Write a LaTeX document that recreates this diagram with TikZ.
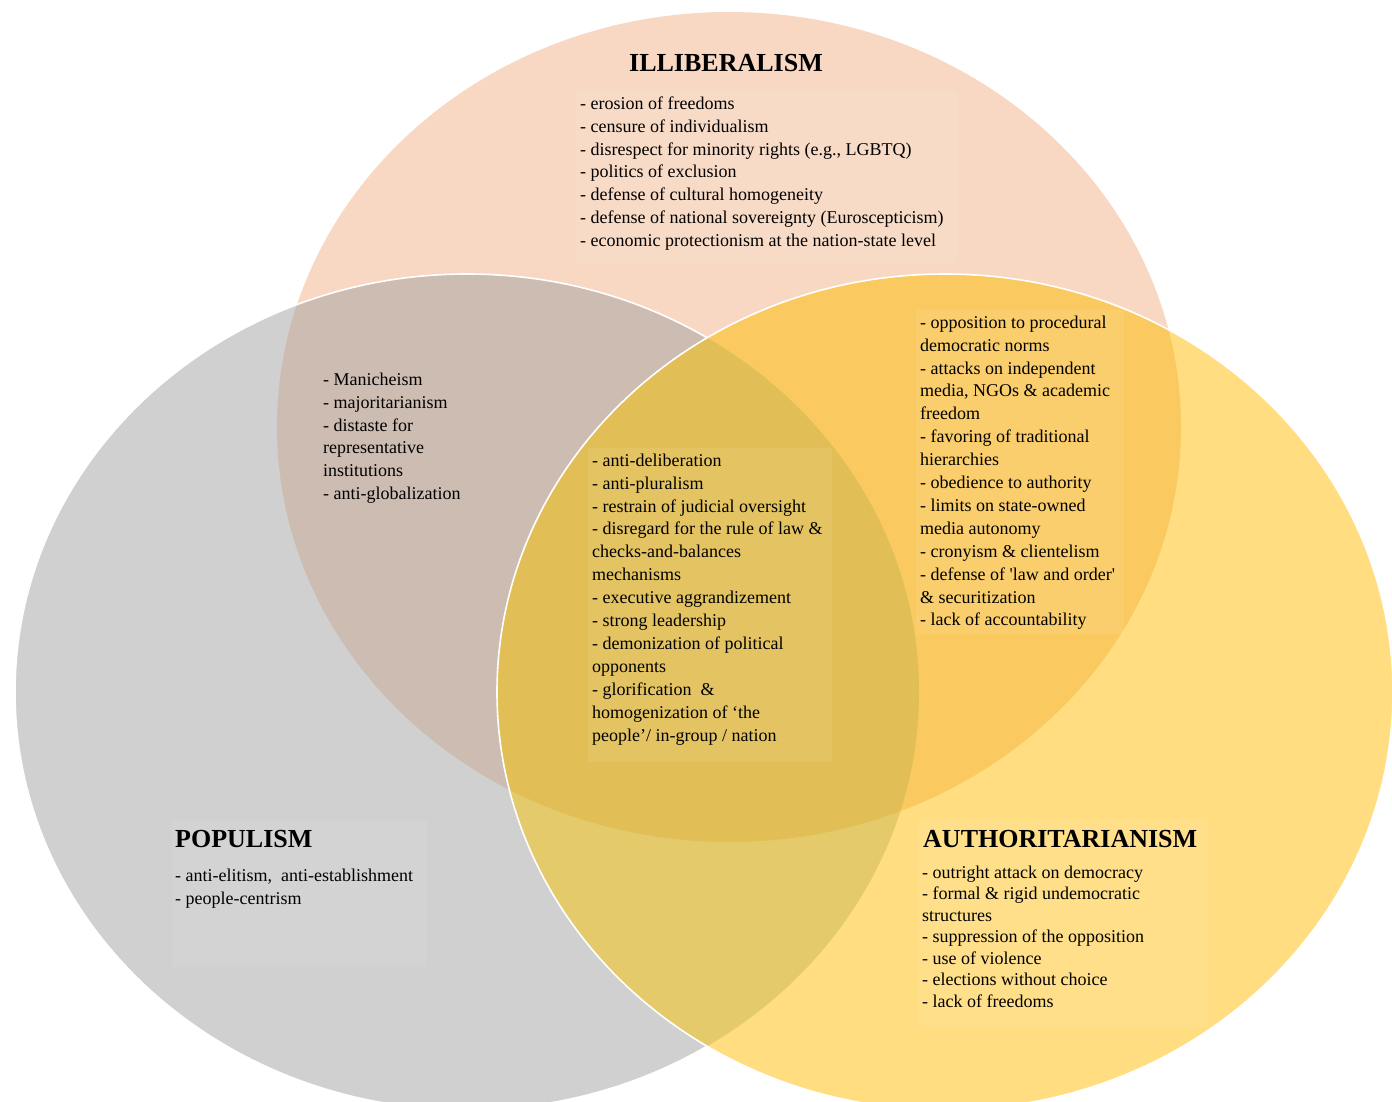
\documentclass[tikz,border=0pt]{standalone}
\usepackage{fontspec}
\setmainfont{Liberation Serif}
\definecolor{cI}{RGB}{248,216,194}
\definecolor{cP}{RGB}{208,208,208}
\definecolor{cA}{RGB}{255,221,128}
\definecolor{cIP}{RGB}{205,188,178}
\definecolor{cIA}{RGB}{250,202,96}
\definecolor{cPA}{RGB}{229,202,107}
\definecolor{cIPA}{RGB}{226,190,86}
\def\illpath{(729,427) ellipse [x radius=452pt, y radius=415pt]}
\def\poppath{(467,692) ellipse [x radius=452pt, y radius=418pt]}
\def\autpath{(945,692) ellipse [x radius=448pt, y radius=418pt]}
\tikzset{
  listtext/.style={anchor=north west, inner sep=0pt, align=left, font=\fontsize{18}{22.9}\selectfont},
  authlist/.style={anchor=north west, inner sep=0pt, align=left, font=\fontsize{18}{21.5}\selectfont},
  titletext/.style={inner sep=0pt, font=\fontsize{26}{30}\selectfont\bfseries},
  shade box/.style={fill=white, fill opacity=0.08, draw=none},
  outline/.style={draw=white, line width=1.6pt}
}
\begin{document}
\begin{tikzpicture}[x=1pt,y=-1pt]
\useasboundingbox (0,0) rectangle (1392,1102);
% base fills
\fill[cI] \illpath;
\fill[cP] \poppath;
\begin{scope}
  \clip \illpath;
  \fill[cIP] \poppath;
\end{scope}
\draw[outline] \poppath;
\fill[cA] \autpath;
\begin{scope}
  \clip \illpath;
  \fill[cIA] \autpath;
\end{scope}
\begin{scope}
  \clip \poppath;
  \fill[cPA] \autpath;
\end{scope}
\begin{scope}
  \clip \illpath;
  \clip \poppath;
  \fill[cIPA] \autpath;
\end{scope}
\draw[outline] \autpath;
% shaded text boxes
\path[shade box] (576,90) rectangle (957,263);
\path[shade box] (588,448) rectangle (832,762);
\path[shade box] (916,310) rectangle (1124,634);
\path[shade box] (172,821) rectangle (427,967);
\path[shade box] (918,820) rectangle (1208,1027);
% titles
\node[titletext, anchor=base] (tIll) at (726,72) {ILLIBERALISM};
\node[titletext, anchor=base west] (tPop) at (175,847) {POPULISM};
\node[titletext, anchor=base west] (tAut) at (923,847) {AUTHORITARIANISM};
% lists
\node[listtext] (lIll) at (580,93) {\strut- erosion of freedoms\\
- censure of individualism\\
- disrespect for minority rights (e.g., LGBTQ)\\
- politics of exclusion\\
- defense of cultural homogeneity\\
- defense of national sovereignty (Euroscepticism)\\
- economic protectionism at the nation-state level};
\node[listtext] (lIP) at (323,369) {\strut- Manicheism\\
- majoritarianism\\
- distaste for\\
representative\\
institutions\\
- anti-globalization};
\node[listtext] (lIPA) at (592,450) {\strut- anti-deliberation\\
- anti-pluralism\\
- restrain of judicial oversight\\
- disregard for the rule of law \&\\
checks-and-balances\\
mechanisms\\
- executive aggrandizement\\
- strong leadership\\
- demonization of political\\
opponents\\
- glorification\ \ \&\\
homogenization of ‘the\\
people’/ in-group / nation};
\node[listtext] (lIA) at (920,312) {\strut- opposition to procedural\\
democratic norms\\
- attacks on independent\\
media, NGOs \& academic\\
freedom\\
- favoring of traditional\\
hierarchies\\
- obedience to authority\\
- limits on state-owned\\
media autonomy\\
- cronyism \& clientelism\\
- defense of \textquotesingle law and order\textquotesingle\\
\& securitization\\
- lack of accountability};
\node[listtext] (lPop) at (175,865) {\strut- anti-elitism,\ \ anti-establishment\\
- people-centrism};
\node[authlist] (lAut) at (922,863) {\strut- outright attack on democracy\\
- formal \& rigid undemocratic\\
structures\\
- suppression of the opposition\\
- use of violence\\
- elections without choice\\
- lack of freedoms};
\end{tikzpicture}
\end{document}
